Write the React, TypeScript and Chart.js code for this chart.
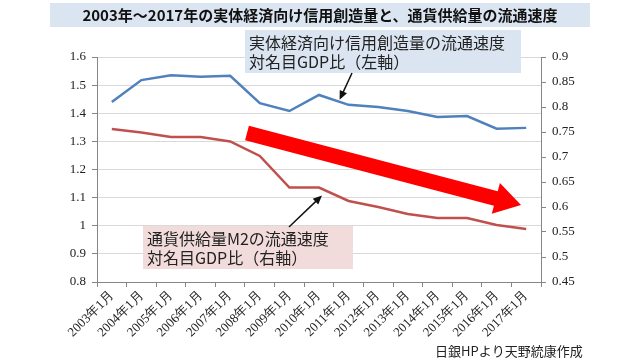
import React, { useEffect, useRef } from "react";
import { Chart, registerables } from "chart.js";

Chart.register(...registerables);

const categories = [
  "2003年1月", "2004年1月", "2005年1月", "2006年1月", "2007年1月",
  "2008年1月", "2009年1月", "2010年1月", "2011年1月", "2012年1月",
  "2013年1月", "2014年1月", "2015年1月", "2016年1月", "2017年1月",
];
const creditVelocity = [1.44, 1.518, 1.535, 1.53, 1.533, 1.436, 1.408, 1.465, 1.43, 1.422, 1.408, 1.387, 1.39, 1.345, 1.348];
const m2Velocity = [0.756, 0.749, 0.74, 0.74, 0.731, 0.702, 0.639, 0.639, 0.612, 0.6, 0.586, 0.578, 0.578, 0.564, 0.556];

const titleText = "2003年～2017年の実体経済向け信用創造量と、通貨供給量の流通速度";
const note1 = ["実体経済向け信用創造量の流通速度", "対名目GDP比（左軸）"];
const note2 = ["通貨供給量M2の流通速度", "対名目GDP比（右軸）"];
const sourceText = "日銀HPより天野統康作成";

const SANS = '"Noto Sans CJK JP", "Noto Sans", sans-serif';
const SERIF = '"Liberation Serif", "DejaVu Serif", serif';

const fmt = (v: any) => String(Number(Number(v).toFixed(2)));

function arrow(ctx: CanvasRenderingContext2D, x1: number, y1: number, x2: number, y2: number) {
  const a = Math.atan2(y2 - y1, x2 - x1);
  ctx.save();
  ctx.strokeStyle = "#111";
  ctx.fillStyle = "#111";
  ctx.lineWidth = 1.5;
  ctx.beginPath();
  ctx.moveTo(x1, y1);
  ctx.lineTo(x2 - 6 * Math.cos(a), y2 - 6 * Math.sin(a));
  ctx.stroke();
  ctx.beginPath();
  ctx.moveTo(x2, y2);
  ctx.lineTo(x2 - 9 * Math.cos(a) + 4 * Math.sin(a), y2 - 9 * Math.sin(a) - 4 * Math.cos(a));
  ctx.lineTo(x2 - 9 * Math.cos(a) - 4 * Math.sin(a), y2 - 9 * Math.sin(a) + 4 * Math.cos(a));
  ctx.closePath();
  ctx.fill();
  ctx.restore();
}

const annotations = {
  id: "annotations",
  afterDraw(chart: any) {
    const ctx = chart.ctx as CanvasRenderingContext2D;
    ctx.save();
    // title
    ctx.fillStyle = "#dbe5f1";
    ctx.fillRect(50, 3, 540, 24);
    ctx.fillStyle = "#111";
    ctx.font = `bold 15px ${SANS}`;
    ctx.textAlign = "center";
    ctx.textBaseline = "middle";
    ctx.fillText(titleText, 320, 15);

    // note 1
    ctx.fillStyle = "#dbe5f1";
    ctx.fillRect(245, 30, 276, 43);
    ctx.fillStyle = "#222";
    ctx.font = `16px ${SANS}`;
    ctx.textAlign = "left";
    ctx.fillText(note1[0], 249, 43);
    ctx.fillText(note1[1], 249, 62);

    // note 2
    ctx.fillStyle = "#f2dcdb";
    ctx.fillRect(143, 226, 210, 43);
    ctx.fillStyle = "#222";
    ctx.fillText(note2[0], 147, 239);
    ctx.fillText(note2[1], 147, 258);

    const xs = chart.scales.x;
    const yl = chart.scales.y;
    const yr = chart.scales.y1;
    // arrows to series
    arrow(ctx, 352, 73, xs.getPixelForValue(8) - 9, yl.getPixelForValue(creditVelocity[8]) - 5);
    arrow(ctx, 289, 227, xs.getPixelForValue(7) + 3, yr.getPixelForValue(m2Velocity[7]) + 8);

    // big red arrow
    const sx = 247, sy = 133, ex = 521, ey = 205;
    const a = Math.atan2(ey - sy, ex - sx);
    const c = Math.cos(a), s = Math.sin(a);
    const hw = 7.5, headW = 16, headL = 26;
    const bx = ex - headL * c, by = ey - headL * s;
    ctx.fillStyle = "#ff0000";
    ctx.beginPath();
    ctx.moveTo(sx - hw * -s, sy - hw * c);
    ctx.lineTo(bx - hw * -s, by - hw * c);
    ctx.lineTo(bx - headW * -s, by - headW * c);
    ctx.lineTo(ex, ey);
    ctx.lineTo(bx + headW * -s, by + headW * c);
    ctx.lineTo(bx + hw * -s, by + hw * c);
    ctx.lineTo(sx + hw * -s, sy + hw * c);
    ctx.closePath();
    ctx.fill();

    // source
    ctx.fillStyle = "#222";
    ctx.font = `13px ${SANS}`;
    ctx.textAlign = "left";
    ctx.fillText(sourceText, 435, 351);
    ctx.restore();
  },
};

const whiteBg = {
  id: "whiteBg",
  beforeDraw(chart: any) {
    const ctx = chart.ctx;
    ctx.save();
    ctx.fillStyle = "#fff";
    ctx.fillRect(0, 0, chart.width, chart.height);
    ctx.restore();
  },
};

export default function App() {
  const ref = useRef<HTMLCanvasElement>(null);
  useEffect(() => {
    if (!ref.current) return;
    const chart = new Chart(ref.current, {
      type: "line",
      data: {
        labels: categories,
        datasets: [
          {
            label: "credit",
            data: creditVelocity,
            borderColor: "#4f81bd",
            borderWidth: 2.5,
            pointRadius: 0,
            tension: 0,
            yAxisID: "y",
          },
          {
            label: "m2",
            data: m2Velocity,
            borderColor: "#c0504d",
            borderWidth: 2.5,
            pointRadius: 0,
            tension: 0,
            yAxisID: "y1",
          },
        ],
      },
      options: {
        animation: false,
        responsive: false,
        layout: { padding: { top: 57, left: 0, right: 0, bottom: 0 } },
        plugins: { legend: { display: false }, tooltip: { enabled: false } },
        scales: {
          x: {
            offset: true,
            grid: { offset: true, drawOnChartArea: false, drawTicks: true, tickLength: 5, color: "#868686" },
            border: { color: "#868686" },
            ticks: {
              maxRotation: 45,
              minRotation: 45,
              autoSkip: false,
              color: "#222",
              font: { family: SERIF, size: 13 },
              padding: 1,
            },
            afterFit: (s: any) => { s.height = 78; },
          },
          y: {
            position: "left",
            min: 0.8,
            max: 1.6,
            ticks: { stepSize: 0.1, color: "#222", font: { family: SERIF, size: 13 }, padding: 6, callback: fmt },
            grid: { color: "#d9d9d9", tickLength: 5, tickColor: "#868686" },
            border: { color: "#868686" },
            afterFit: (s: any) => { s.width = 97; },
          },
          y1: {
            position: "right",
            min: 0.45,
            max: 0.9,
            ticks: { stepSize: 0.05, color: "#222", font: { family: SERIF, size: 13 }, padding: 6, callback: fmt },
            grid: { drawOnChartArea: false, tickLength: 5, color: "#868686" },
            border: { color: "#868686" },
            afterFit: (s: any) => { s.width = 99; },
          },
        },
      },
      plugins: [whiteBg, annotations],
    });
    return () => chart.destroy();
  }, []);
  return (
    <div style={{ position: "fixed", left: 0, top: 0, width: 640, height: 360 }}>
      <canvas ref={ref} width={640} height={360} style={{ width: 640, height: 360 }} />
    </div>
  );
}
